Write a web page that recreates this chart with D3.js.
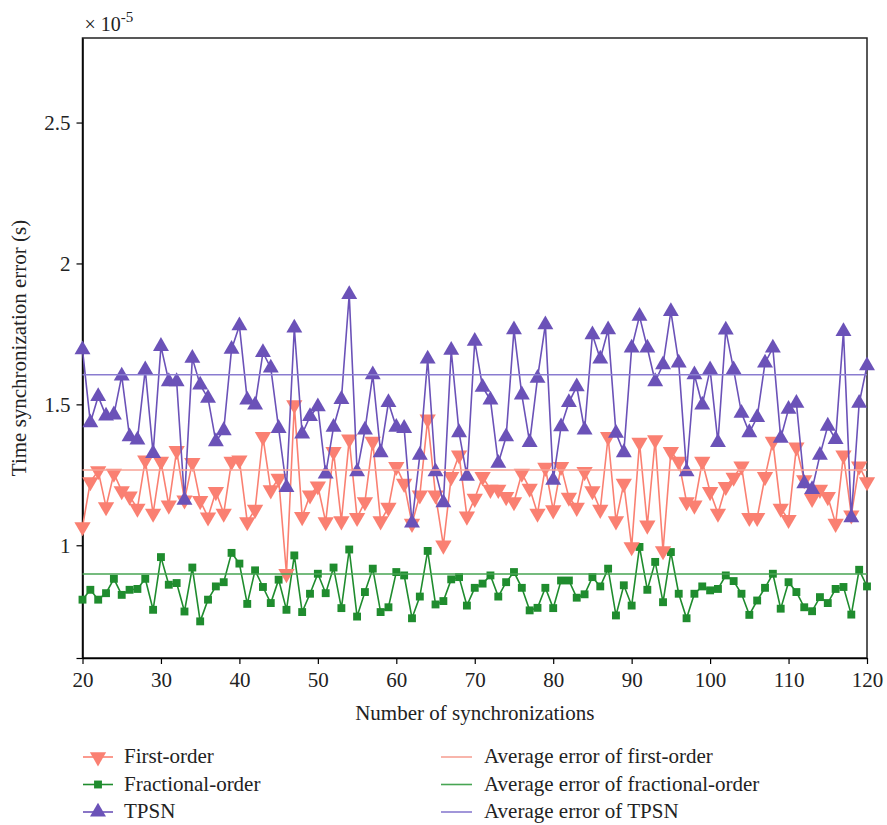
<!DOCTYPE html>
<html>
<head>
<meta charset="utf-8">
<script src="https://cdn.jsdelivr.net/npm/d3@7"></script>
<style>
  body { margin: 0; background: #fff; }
  text { font-family: "Liberation Serif", "DejaVu Serif", serif; }
</style>
</head>
<body>
<div id="chart"></div>
<script>
// data, values in units of 1e-5 s
var xStart = 20;
var firstOrder = [1.065, 1.225, 1.264, 1.136, 1.255, 1.193, 1.174, 1.131, 1.302, 1.113,
    1.297, 1.142, 1.336, 1.160, 1.293, 1.158, 1.100, 1.190, 1.113, 1.297,
    1.302, 1.083, 1.127, 1.385, 1.196, 1.237, 0.899, 1.498, 1.101, 1.178,
    1.210, 1.083, 1.332, 1.086, 1.376, 1.098, 1.154, 1.368, 1.086, 1.134,
    1.279, 1.219, 1.077, 1.178, 1.447, 1.178, 1.000, 1.243, 1.320, 1.103,
    1.166, 1.243, 1.198, 1.198, 1.172, 1.154, 1.255, 1.202, 1.113, 1.276,
    1.125, 1.279, 1.170, 1.134, 1.261, 1.193, 1.127, 1.385, 1.086, 1.219,
    0.994, 1.365, 1.071, 1.374, 0.980, 1.332, 1.297, 1.154, 1.142, 1.297,
    1.190, 1.113, 1.208, 1.241, 1.281, 1.098, 1.098, 1.243, 1.368, 1.131,
    1.091, 1.348, 1.232, 1.166, 1.198, 1.172, 1.077, 1.320, 1.107, 1.281,
    1.225];
var fractional = [0.807, 0.842, 0.807, 0.830, 0.881, 0.824, 0.842, 0.845, 0.881, 0.771,
    0.958, 0.860, 0.866, 0.765, 0.921, 0.730, 0.807, 0.854, 0.869, 0.973,
    0.935, 0.792, 0.911, 0.852, 0.795, 0.878, 0.771, 0.964, 0.763, 0.828,
    0.899, 0.830, 0.921, 0.777, 0.985, 0.747, 0.834, 0.917, 0.763, 0.780,
    0.905, 0.893, 0.741, 0.818, 0.980, 0.790, 0.802, 0.879, 0.887, 0.786,
    0.849, 0.864, 0.893, 0.818, 0.869, 0.905, 0.849, 0.769, 0.778, 0.849,
    0.777, 0.875, 0.875, 0.814, 0.826, 0.887, 0.854, 0.917, 0.751, 0.858,
    0.786, 0.994, 0.842, 0.941, 0.798, 0.976, 0.828, 0.741, 0.828, 0.854,
    0.840, 0.845, 0.893, 0.873, 0.828, 0.753, 0.804, 0.849, 0.899, 0.775,
    0.869, 0.834, 0.780, 0.766, 0.816, 0.795, 0.845, 0.852, 0.754, 0.913,
    0.854];
var tpsn = [1.694, 1.435, 1.528, 1.459, 1.463, 1.601, 1.385, 1.374, 1.623, 1.326,
    1.706, 1.581, 1.581, 1.160, 1.664, 1.569, 1.522, 1.368, 1.407, 1.696,
    1.779, 1.516, 1.498, 1.684, 1.629, 1.415, 1.205, 1.771, 1.395, 1.457,
    1.492, 1.253, 1.419, 1.518, 1.890, 1.261, 1.409, 1.605, 1.329, 1.507,
    1.419, 1.415, 1.079, 1.320, 1.661, 1.261, 1.151, 1.692, 1.400, 1.245,
    1.724, 1.561, 1.516, 1.291, 1.385, 1.765, 1.534, 1.365, 1.593, 1.783,
    1.231, 1.421, 1.507, 1.563, 1.409, 1.747, 1.661, 1.765, 1.398, 1.329,
    1.700, 1.813, 1.700, 1.581, 1.641, 1.830, 1.647, 1.261, 1.605, 1.498,
    1.623, 1.365, 1.764, 1.623, 1.469, 1.400, 1.454, 1.647, 1.700, 1.380,
    1.483, 1.504, 1.219, 1.198, 1.320, 1.423, 1.376, 1.759, 1.098, 1.504,
    1.637];
var averages = [1.267, 0.898, 1.605];
var seriesNames = ["First-order", "Fractional-order", "TPSN"];
var averageNames = ["Average error of first-order", "Average error of fractional-order", "Average error of TPSN"];
var xTicks = [20, 30, 40, 50, 60, 70, 80, 90, 100, 110, 120];
var yTicks = [1, 1.5, 2, 2.5];

// dimensions
var width = 887;
var height = 825;
var mLeft = 82.5, mRight = 867, mTop = 38, mBottom = 658;
var fontSize = "21px";

var colors = ["#fa8072", "#1f8c2e", "#6b52b8"];
var avgColors = ["#f7a296", "#47a553", "#8a7cd0"];

var svg = d3.select("#chart")
    .append("svg")
    .attr("width", width)
    .attr("height", height);

var x = d3.scaleLinear().domain([20, 120]).range([mLeft, mRight]);
var y = d3.scaleLinear().domain([0.6, 2.8]).range([mBottom, mTop]);

// frame
svg.append("rect")
    .attr("x", mLeft)
    .attr("y", mTop)
    .attr("width", mRight - mLeft)
    .attr("height", mBottom - mTop)
    .style("fill", "none")
    .style("stroke", "#222")
    .style("stroke-width", "1.5px");

var xAxis = svg.append("g")
    .attr("transform", "translate(0," + mBottom + ")")
    .call(d3.axisBottom(x).tickValues(xTicks).tickSize(6).tickSizeOuter(0).tickPadding(8));
var yAxis = svg.append("g")
    .attr("transform", "translate(" + mLeft + ",0)")
    .call(d3.axisLeft(y).tickValues([0.6].concat(yTicks)).tickSize(6).tickSizeOuter(0).tickPadding(6)
        .tickFormat(function (d) { return d === 0.6 ? "" : d3.format("")(d); }));

[xAxis, yAxis].forEach(function (a) {
    a.select(".domain").style("stroke", "#000").style("stroke-width", "1.5px");
    a.selectAll(".tick line").style("stroke", "#000").style("stroke-width", "1.2px");
    a.selectAll(".tick text")
        .style("font-family", "'Liberation Serif', serif")
        .style("font-size", fontSize)
        .style("fill", "#222");
});

svg.append("text")
    .attr("x", (mLeft + mRight) / 2)
    .attr("y", 720)
    .attr("text-anchor", "middle")
    .style("font-size", fontSize)
    .style("fill", "#222")
    .text("Number of synchronizations");

svg.append("text")
    .attr("transform", "translate(26," + (mTop + mBottom) / 2 + ") rotate(-90)")
    .attr("text-anchor", "middle")
    .style("font-size", fontSize)
    .style("fill", "#222")
    .text("Time synchronization error (s)");

var expo = svg.append("text")
    .attr("x", mLeft + 2)
    .attr("y", 31)
    .style("font-size", "20px")
    .style("fill", "#222");
expo.append("tspan").text("\u00d7 10");
expo.append("tspan").attr("dy", -9).style("font-size", "15px").text("-5");

// series
var allSeries = [firstOrder, fractional, tpsn];
var symbols = [d3.symbolTriangle, d3.symbolSquare, d3.symbolTriangle];
var symSizes = [115, 62, 110];
var rotations = [180, 0, 0];
var drawOrder = [1, 0, 2];

var line = d3.line()
    .x(function (d, i) { return x(xStart + i); })
    .y(function (d) { return y(d); });

drawOrder.forEach(function (s) {
    var g = svg.append("g");
    g.append("path")
        .datum(allSeries[s])
        .attr("d", line)
        .style("fill", "none")
        .style("stroke", colors[s])
        .style("stroke-width", "1.6px");
    g.selectAll(".pt")
        .data(allSeries[s])
        .enter()
        .append("path")
        .attr("d", d3.symbol().type(symbols[s]).size(symSizes[s]))
        .attr("transform", function (d, i) {
            return "translate(" + x(xStart + i) + "," + y(d) + ") rotate(" + rotations[s] + ")";
        })
        .style("fill", colors[s]);
});

averages.forEach(function (a, s) {
    svg.append("line")
        .attr("x1", x(20))
        .attr("x2", x(120))
        .attr("y1", y(a))
        .attr("y2", y(a))
        .style("stroke", avgColors[s])
        .style("stroke-width", "1.6px");
});

// legend
var legend = svg.append("g");
seriesNames.forEach(function (name, s) {
    var ly = 757 + s * 27.5;
    legend.append("line")
        .attr("x1", 83).attr("x2", 113)
        .attr("y1", ly).attr("y2", ly)
        .style("stroke", colors[s])
        .style("stroke-width", "1.6px");
    legend.append("path")
        .attr("d", d3.symbol().type(symbols[s]).size(symSizes[s]))
        .attr("transform", "translate(98," + ly + ") rotate(" + rotations[s] + ")")
        .style("fill", colors[s]);
    legend.append("text")
        .attr("x", 124)
        .attr("y", ly + 6)
        .style("font-size", fontSize)
        .style("fill", "#222")
        .text(name);
});
averageNames.forEach(function (name, s) {
    var ly = 757 + s * 27.5;
    legend.append("line")
        .attr("x1", 441).attr("x2", 472)
        .attr("y1", ly).attr("y2", ly)
        .style("stroke", avgColors[s])
        .style("stroke-width", "1.6px");
    legend.append("text")
        .attr("x", 484)
        .attr("y", ly + 6)
        .style("font-size", fontSize)
        .style("fill", "#222")
        .text(name);
});
</script>
</body>
</html>
